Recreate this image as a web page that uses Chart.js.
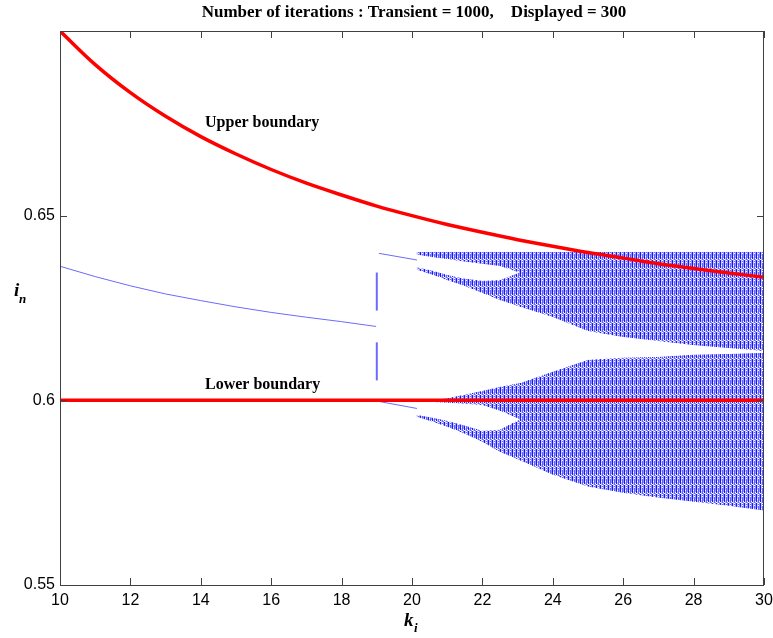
<!DOCTYPE html>
<html>
<head>
<meta charset="utf-8">
<script src="https://cdn.jsdelivr.net/npm/chart.js@4.4.0/dist/chart.umd.min.js"></script>
<style>
  body{margin:0;background:#fff;}
  canvas{display:block;}
</style>
</head>
<body>
<canvas id="bif" width="773" height="638"></canvas>
<script>
// stable branch before the jump (k < 19)
const kStable=[10,11,12,13,14,15,16,17,18,18.98];
const iStableUp=[0.6363,0.6335,0.6310,0.6288,0.6270,0.6253,0.6238,0.6225,0.6213,0.6200];
const iStableLo=[0.6,0.6,0.6,0.6,0.6,0.6,0.6,0.6,0.6,0.6];
// vertical jump at k = 19
const kJump=19.0;
const jumpUp=[0.6243,0.6346];
const jumpLo=[0.6054,0.6157];
// period branches between 19 and 20.2
const kSplit=[19.06,20.14];
const iSplitUp=[0.6398,0.6380];
const iSplitLo=[0.5997,0.5978];
// chaotic bands: edges
const kBand=[20.14,20.6,21.0,21.5,22.0,22.5,23.1,24,25,26,27,28,29,30];
const upTop=[0.640,0.640,0.640,0.640,0.640,0.640,0.640,0.640,0.640,0.640,0.640,0.640,0.640,0.640];
const upBot=[0.6355,0.6341,0.6327,0.6311,0.6292,0.6273,0.6254,0.6227,0.6189,0.6173,0.6162,0.6151,0.6143,0.6135];
const loTop=[0.6000,0.6000,0.6004,0.6014,0.6024,0.6035,0.6046,0.6076,0.6108,0.6114,0.6116,0.6122,0.6124,0.6127];
const loBot=[0.5957,0.5943,0.5930,0.5911,0.5889,0.5862,0.5838,0.5800,0.5768,0.5751,0.5738,0.5727,0.5716,0.5703];
// white holes inside the bands
const kHole=[20.14,20.6,21.0,21.5,22.0,22.5,23.1];
const upHoleTop=[0.6396,0.6389,0.6384,0.6377,0.6371,0.6365,0.6346];
const upHoleBot=[0.6359,0.6349,0.6338,0.6328,0.6322,0.6324,0.6346];
const loHoleTop=[0.5999,0.5997,0.5995,0.5992,0.5989,0.5973,0.5949];
const loHoleBot=[0.5959,0.5951,0.5943,0.5930,0.5916,0.5919,0.5949];
// boundaries
const kBound=[10,11,12,13,14,15,16,17,18,19,20,21,22,23,24,25,26,27,28,29,30];
const iUpperBound=[0.700,0.6909,0.6833,0.6769,0.6714,0.6667,0.6625,0.6588,0.6556,0.6526,0.650,0.6476,0.6455,0.6435,0.6417,0.640,0.6385,0.6370,0.6357,0.6345,0.6333];
const kLowerBound=[10,30];
const iLowerBound=[0.6,0.6];
const yTicks=[0.55,0.6,0.65];
const yTickLabels=['0.55','0.6','0.65'];

const titleText='Number of iterations : Transient = 1000,    Displayed = 300';

function pts(ks,vs){
    return ks.map((k,i)=>({x:k,y:vs[i]}));
}
function band(ks,top,bot){
    let p=pts(ks,top);
    for(let i=ks.length-1;i>=0;i--) p.push({x:ks[i],y:bot[i]});
    return p;
}
function makeHatch(){
    // small tile of vertical blue strokes with white specks
    let c=document.createElement('canvas');
    c.width=4;c.height=9;
    let g=c.getContext('2d');
    g.fillStyle='#c4c4ff';g.fillRect(0,0,4,9);
    g.fillStyle='#1414ff';g.fillRect(0,0,1,9);
    g.fillStyle='#6262ff';g.fillRect(2,0,1,9);
    g.fillStyle='#9090ff';g.fillRect(3,0,1,9);
    g.fillStyle='#ffffff';
    g.fillRect(2,1,1,1);g.fillRect(1,4,1,1);g.fillRect(3,6,1,1);g.fillRect(0,7,1,1);g.fillRect(2,8,1,1);
    return document.getElementById('bif').getContext('2d').createPattern(c,'repeat');
}
const hatch=makeHatch();

function bandSet(data){
    return {data:data,showLine:true,fill:'shape',backgroundColor:hatch,borderColor:hatch,
        borderWidth:1,pointRadius:0,tension:0,order:2};
}
function thinSet(data,w,col){
    return {data:data,showLine:true,fill:false,borderColor:col,borderWidth:w,pointRadius:0,tension:0,order:2};
}

const datasets=[
    {data:pts(kBound,iUpperBound),showLine:true,borderColor:'#ff0000',borderWidth:3.5,pointRadius:0,
        cubicInterpolationMode:'monotone',fill:false,order:0},
    {data:pts(kLowerBound,iLowerBound),showLine:true,borderColor:'#ff0000',borderWidth:3.5,pointRadius:0,fill:false,order:0},
    thinSet(pts(kStable,iStableUp),1,'#6a6aff'),
    thinSet(pts(kStable,iStableLo),1,'#6a6aff'),
    thinSet(pts(kSplit,iSplitUp),1,'#6a6aff'),
    thinSet(pts(kSplit,iSplitLo),1,'#6a6aff'),
    thinSet([{x:kJump,y:jumpUp[0]},{x:kJump,y:jumpUp[1]}],2,'#6a6aff'),
    thinSet([{x:kJump,y:jumpLo[0]},{x:kJump,y:jumpLo[1]}],2,'#6a6aff'),
    bandSet(band(kHole,upTop.slice(0,7),upHoleTop)),
    bandSet(band(kHole,upHoleBot,upBot.slice(0,7))),
    bandSet(band(kBand.slice(6),upTop.slice(6),upBot.slice(6))),
    bandSet(band(kHole,loTop.slice(0,7),loHoleTop)),
    bandSet(band(kHole,loHoleBot,loBot.slice(0,7))),
    bandSet(band(kBand.slice(6),loTop.slice(6),loBot.slice(6)))
];

const decor={
    id:'decor',
    afterDraw(chart){
        const c=chart.ctx, a=chart.chartArea;
        const xs=chart.scales.x, ys=chart.scales.y;
        c.save();
        // box and inward ticks
        c.strokeStyle='#404040';
        c.lineWidth=1;
        c.strokeRect(a.left+0.5,a.top+0.5,a.right-a.left-1,a.bottom-a.top);
        c.beginPath();
        for(let k=10;k<=30;k+=2){
            let px=Math.round(xs.getPixelForValue(k))+0.5;
            c.moveTo(px,a.bottom);c.lineTo(px,a.bottom-7);
            c.moveTo(px,a.top);c.lineTo(px,a.top+7);
        }
        yTicks.forEach(v=>{
            let py=Math.round(ys.getPixelForValue(v))+0.5;
            c.moveTo(a.left,py);c.lineTo(a.left+7,py);
            c.moveTo(a.right,py);c.lineTo(a.right-7,py);
        });
        c.stroke();
        // texts
        c.fillStyle='#000';
        c.textBaseline='middle';
        c.textAlign='center';
        c.font='bold 17px "Liberation Serif"';
        c.fillText(titleText,(a.left+a.right)/2+2,13);
        c.textAlign='left';
        c.font='bold 16px "Liberation Serif"';
        c.fillText('Upper boundary',xs.getPixelForValue(14.12),ys.getPixelForValue(0.6751));
        c.fillText('Lower boundary',xs.getPixelForValue(14.12),ys.getPixelForValue(0.6041));
        c.textBaseline='alphabetic';
        c.font='italic bold 19px "Liberation Serif"';
        c.fillText('k',404,626);
        c.fillText('i',14,296);
        c.font='italic bold 13px "Liberation Serif"';
        c.fillText('i',414,632);
        c.fillText('n',19,303);
        c.restore();
    }
};

new Chart('bif',{
    type:'scatter',
    data:{datasets:datasets},
    options:{
        responsive:false,
        animation:false,
        devicePixelRatio:1,
        layout:{padding:{top:31,right:9,left:0,bottom:0}},
        plugins:{legend:{display:false},tooltip:{enabled:false},title:{display:false}},
        scales:{
            x:{type:'linear',min:10,max:30,
                grid:{display:false,drawTicks:false},border:{display:false},
                ticks:{stepSize:2,padding:6,maxRotation:0,color:'#000',font:{family:'Liberation Sans',size:16}},
                afterFit(s){s.height=53;s.paddingLeft=0;s.paddingRight=0;}
            },
            y:{type:'linear',min:0.55,max:0.7,
                grid:{display:false,drawTicks:false},border:{display:false},
                afterBuildTicks(s){s.ticks=yTicks.map(v=>({value:v}));},
                ticks:{padding:5,color:'#000',font:{family:'Liberation Sans',size:16},
                    callback:(v)=>yTickLabels[yTicks.indexOf(v)]},
                afterFit(s){s.width=60;s.paddingTop=0;s.paddingBottom=0;}
            }
        }
    },
    plugins:[decor]
});
</script>
</body>
</html>
